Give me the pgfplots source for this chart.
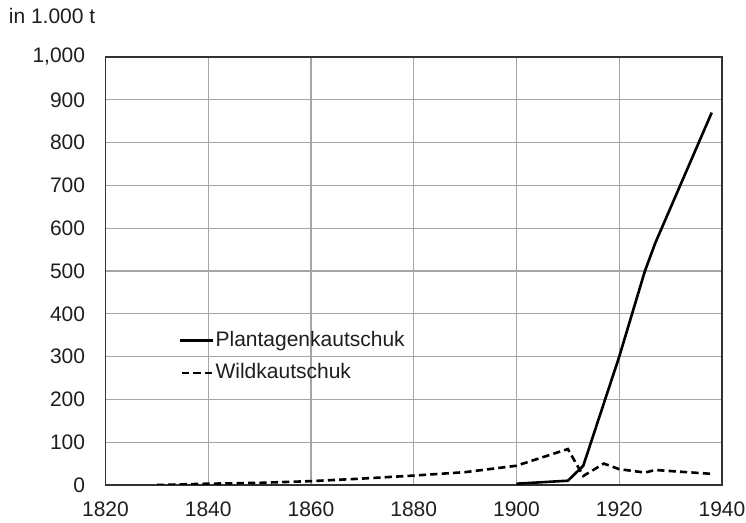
\documentclass[border=0pt]{standalone}
\usepackage{fontspec}
\setmainfont{Liberation Sans}
\usepackage{pgfplots}
\pgfplotsset{compat=1.18}
\definecolor{gridgray}{RGB}{165,165,165}
\definecolor{framegray}{RGB}{50,50,50}
\definecolor{txt}{RGB}{30,30,30}
\begin{document}
\fontsize{10.5}{12.6}\selectfont
\begin{tikzpicture}
\begin{axis}[
  at={(0,0)}, anchor=south west,
  scale only axis,
  width=308.25pt, height=214pt,
  xmin=1820, xmax=1940, ymin=0, ymax=1000,
  xtick={1820,1840,...,1940},
  ytick={0,100,...,1000},
  major tick length=0pt,
  grid=major,
  major grid style={gridgray, line width=0.65pt},
  axis line style={framegray, line width=0.7pt},
  tick label style={font=\fontsize{10.5}{12.6}\selectfont},
  /pgf/number format/assume math mode=true,
  xticklabel style={/pgf/number format/1000 sep={}, text=txt, yshift=-4.5pt},
  yticklabel style={/pgf/number format/1000 sep={,}, text=txt, xshift=-6.5pt},
  legend style={draw=none, fill=none, at={(0.1176,0.2998)}, anchor=west,
    inner sep=0pt, row sep=5.5pt, nodes={inner sep=0.8pt, text=txt},
    font=\fontsize{10.5}{12.6}\selectfont,
    cells={anchor=west}},
  legend image code/.code={\draw[#1, dash phase=4.5pt] (0pt,0pt) -- (16.5pt,0pt);},
]
\addplot[black, line width=1.3pt] coordinates {
  (1900,3) (1910,10) (1913,45) (1920,300) (1925,500) (1927,565) (1938,870)
};
\addlegendentry{Plantagenkautschuk}
\addplot[black, line width=1.3pt, dash pattern=on 3.6pt off 2.1pt] coordinates {
  (1830,0) (1840,3) (1850,5) (1860,9) (1870,15) (1880,22) (1890,30)
  (1900,45) (1910,84) (1913,21) (1917,50) (1920,37) (1925,29) (1927,35) (1938,26)
};
\addlegendentry{Wildkautschuk}
\end{axis}
\node[anchor=west, inner sep=0pt, text=txt] at (-48.5pt,234.5pt) {in 1.000 t};
\pgfresetboundingbox
\path (-52.75pt,-19pt) rectangle (320.25pt,242.5pt);
\end{tikzpicture}
\end{document}
